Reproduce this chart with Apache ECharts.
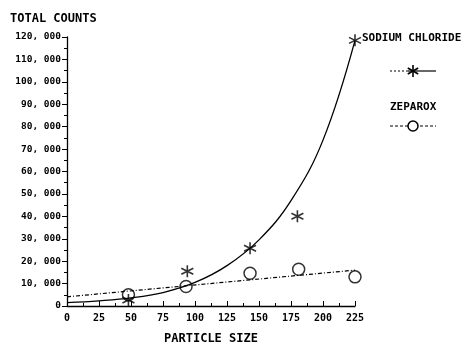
<!DOCTYPE html>
<html><head><meta charset="utf-8">
<script src="https://cdn.jsdelivr.net/npm/echarts@6/dist/echarts.min.js"></script>
<style>html,body{margin:0;padding:0;background:#fff}#c{width:464px;height:344px}</style>
</head><body><div id="c"></div>
<script>
// Measured points
const sodiumX = [48, 94, 143, 180, 225];
const sodiumY = [2700, 15500, 25800, 40000, 118500];
const zeparoxX = [48, 93, 143, 181, 225];
const zeparoxY = [5000, 8700, 14600, 16400, 13000];
// Fitted curves
const sodiumFitX = [0, 25, 50, 75, 100, 125, 150, 175, 200, 225];
const sodiumFitY = [1500, 2300, 3600, 6000, 10500, 18000, 29500, 47000, 74000, 118500];
const zeparoxFitX = [0, 225];
const zeparoxFitY = [4100, 16000];
const xTicks = [0, 25, 50, 75, 100, 125, 150, 175, 200, 225];

const font = '"DejaVu Sans Mono", monospace';
const star = 'path://M0,-6L0,6M-5.2,-3L5.2,3M-5.2,3L5.2,-3';
const zip = (a, b) => a.map((v, i) => [v, b[i]]);

const starLines = (cx, cy, r) => [
  [cx, cy - r, cx, cy + r],
  [cx - r * 0.87, cy - r / 2, cx + r * 0.87, cy + r / 2],
  [cx - r * 0.87, cy + r / 2, cx + r * 0.87, cy - r / 2]
].map(s => ({ type: 'line', shape: { x1: s[0], y1: s[1], x2: s[2], y2: s[3] }, style: { stroke: '#000', lineWidth: 1.6 } }));

const chart = echarts.init(document.getElementById('c'));
chart.setOption({
  backgroundColor: '#fff',
  animation: false,
  textStyle: { fontFamily: font, fontWeight: 'bold', color: '#000' },
  grid: { left: 67, right: 109, top: 37, bottom: 38, containLabel: false, outerBoundsMode: 'none' },
  xAxis: {
    type: 'value', min: 0, max: 225, interval: 25,
    name: 'PARTICLE SIZE', nameLocation: 'middle', nameGap: 27,
    nameTextStyle: { fontFamily: font, fontWeight: 'bold', fontSize: 12, color: '#000' },
    axisLine: { lineStyle: { color: '#000', width: 1.3 } },
    axisTick: { inside: true, length: 5, lineStyle: { color: '#000' } },
    minorTick: { show: true, splitNumber: 2, length: 3, lineStyle: { color: '#000' } },
    splitLine: { show: false },
    axisLabel: { fontFamily: font, fontWeight: 'bold', fontSize: 10, color: '#000', margin: 7,
      formatter: v => xTicks.includes(v) ? String(v) : '' }
  },
  yAxis: {
    type: 'value', min: 0, max: 120000, interval: 10000,
    axisLine: { show: true, lineStyle: { color: '#000', width: 1.3 } },
    axisTick: { show: true, length: 5, lineStyle: { color: '#000' } },
    minorTick: { show: true, splitNumber: 2, length: 3, lineStyle: { color: '#000' } },
    splitLine: { show: false },
    axisLabel: { fontFamily: font, fontWeight: 'bold', fontSize: 9.5, color: '#000', margin: 6,
      formatter: v => v === 0 ? '0' : (Math.floor(v / 1000) + ', 000') }
  },
  graphic: [
    { type: 'text', x: 10, y: 13, style: { text: 'TOTAL COUNTS', font: 'bold 12px ' + font, fill: '#000' } },
    { type: 'text', x: 362, y: 33, style: { text: 'SODIUM CHLORIDE', font: 'bold 11px ' + font, fill: '#000' } },
    { type: 'line', shape: { x1: 390, y1: 71, x2: 408, y2: 71 }, style: { stroke: '#000', lineWidth: 1, lineDash: [2, 2] } },
    { type: 'line', shape: { x1: 408, y1: 71, x2: 436, y2: 71 }, style: { stroke: '#000', lineWidth: 1.2 } },
    ...starLines(413, 71, 6),
    { type: 'text', x: 390, y: 102, style: { text: 'ZEPAROX', font: 'bold 11px ' + font, fill: '#000' } },
    { type: 'line', shape: { x1: 390, y1: 126, x2: 436, y2: 126 }, style: { stroke: '#000', lineWidth: 1, lineDash: [3, 2] } },
    { type: 'circle', shape: { cx: 413, cy: 126, r: 5 }, style: { stroke: '#000', lineWidth: 1.5, fill: '#fff' } }
  ],
  series: [
    { name: 'SODIUM CHLORIDE fit', type: 'line', smooth: 0.4, showSymbol: false, silent: true,
      data: zip(sodiumFitX, sodiumFitY), lineStyle: { color: '#000', width: 1.3 } },
    { name: 'ZEPAROX fit', type: 'line', showSymbol: false, silent: true,
      data: zip(zeparoxFitX, zeparoxFitY), lineStyle: { color: '#000', width: 1.2, type: [4, 2, 1, 2] } },
    { name: 'SODIUM CHLORIDE', type: 'scatter', symbol: star, symbolSize: 12,
      data: zip(sodiumX, sodiumY), itemStyle: { color: 'transparent', borderColor: '#000', borderWidth: 1.6 } },
    { name: 'ZEPAROX', type: 'scatter', symbol: 'circle', symbolSize: 12,
      data: zip(zeparoxX, zeparoxY), itemStyle: { color: 'rgba(255,255,255,0)', borderColor: '#000', borderWidth: 1.5 } }
  ]
});
</script></body></html>
